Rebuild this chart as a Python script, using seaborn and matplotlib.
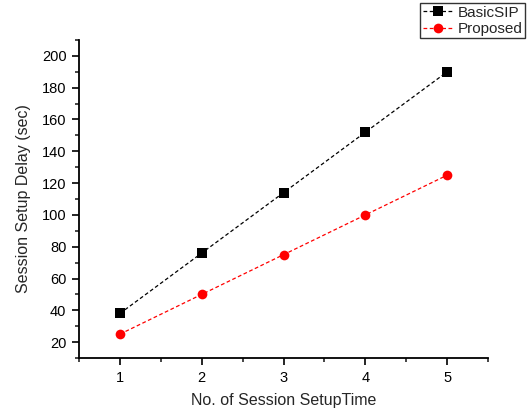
import pandas as pd
import matplotlib
matplotlib.use("Agg")
import matplotlib.pyplot as plt
import seaborn as sns
from matplotlib.ticker import MultipleLocator

# Data
sessions = [1, 2, 3, 4, 5]
basic_sip = [38, 76, 114, 152, 190]
proposed = [25, 50, 75, 100, 125]

df = pd.DataFrame({
    "Session": sessions * 2,
    "Delay": basic_sip + proposed,
    "Scheme": ["BasicSIP"] * len(sessions) + ["Proposed"] * len(sessions),
})

sns.set_theme(style="ticks")
plt.rcParams["font.family"] = ["Liberation Sans", "DejaVu Sans"]

fig = plt.figure(figsize=(5.3, 4.08), dpi=100)
ax = fig.add_axes([0.149, 0.1225, 0.772, 0.7795])

sns.lineplot(data=df, x="Session", y="Delay", hue="Scheme", style="Scheme",
             palette={"BasicSIP": "black", "Proposed": "red"},
             markers={"BasicSIP": "s", "Proposed": "o"},
             dashes={"BasicSIP": (3, 2), "Proposed": (3, 2)},
             markersize=7, markeredgewidth=0, linewidth=0.9, ax=ax)

ax.set_xlim(0.5, 5.5)
ax.set_ylim(10, 210)
ax.xaxis.set_major_locator(MultipleLocator(1))
ax.xaxis.set_minor_locator(MultipleLocator(0.5))
ax.yaxis.set_major_locator(MultipleLocator(20))
ax.yaxis.set_minor_locator(MultipleLocator(10))
ax.set_yticks(range(20, 201, 20))
ax.tick_params(which="major", length=5, width=1.2, labelsize=10.5, colors="black", pad=4)
ax.tick_params(which="minor", length=3, width=1.2)
for side in ["top", "right"]:
    ax.spines[side].set_visible(False)
for side in ["left", "bottom"]:
    ax.spines[side].set_linewidth(1.3)
    ax.spines[side].set_color("black")

ax.set_xlabel("No. of Session SetupTime", fontsize=11.5, labelpad=6)
ax.set_ylabel("Session Setup Delay (sec)", fontsize=11.5, labelpad=8)

leg = ax.legend(loc="upper right", bbox_to_anchor=(1.09, 1.115), fontsize=11,
                frameon=True, fancybox=False, edgecolor="black",
                handlelength=2.0, handletextpad=0.3, borderpad=0.15,
                labelspacing=0.15, borderaxespad=0)
leg.get_frame().set_linewidth(1.0)

fig.savefig("out.png", dpi=100)
